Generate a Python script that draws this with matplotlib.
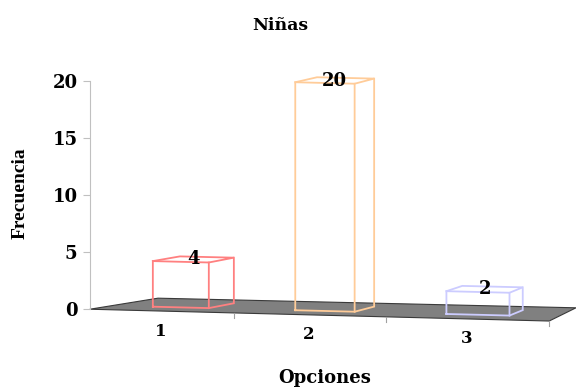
"""Recreate the 'Niñas' 3D-style column chart (Excel look) with matplotlib."""

import matplotlib

matplotlib.use("Agg")

import matplotlib.pyplot as plt
import numpy as np
from matplotlib.patches import Polygon

# Data
categories = ["1", "2", "3"]
values = [4, 20, 2]
edge_colors = ["#FF8080", "#FFCC99", "#CCCCFF"]
y_ticks = [0, 5, 10, 15, 20]

# Layout (pixels, figure is 576x390 at 100 dpi, y measured from top)
_W, _H, _DPI = 576, 390, 100
_FONT = "DejaVu Serif"
_FONT_NARROW = "Liberation Serif"
_AXIS_X = 90
_AXIS_Y0, _AXIS_Y1 = 309, 81  # pixel rows of value 0 and value 20
# floor (u along categories 0..3, v depth 0..1) -> pixel reference points
_FLOOR_REF = [
    ((0, 0), (90, 309)),
    ((1, 0), (233, 313)),
    ((2, 0), (387, 318)),
    ((3, 0), (549, 320)),
    ((0, 1), (158, 298)),
    ((3, 1), (576, 308)),
]
_BAR_U = (0.3, 0.7)  # bar extent inside its category cell
_BAR_V = (0.3, 0.72)  # bar extent in depth


def _fit_homography(pairs):
    rows = []
    for (u, v), (x, y) in pairs:
        rows.append([u, v, 1, 0, 0, 0, -x * u, -x * v, -x])
        rows.append([0, 0, 0, u, v, 1, -y * u, -y * v, -y])
    _, _, vt = np.linalg.svd(np.array(rows, dtype=float))
    return vt[-1].reshape(3, 3)


H = _fit_homography(_FLOOR_REF)


def main():
    fig = plt.figure(figsize=(_W / _DPI, _H / _DPI), dpi=_DPI)
    fig.patch.set_facecolor("white")

    # overlay in pixel coordinates for the pseudo-3D drawing
    ax = fig.add_axes([0, 0, 1, 1])
    ax.set_xlim(0, _W)
    ax.set_ylim(_H, 0)
    ax.axis("off")

    # value axis (real matplotlib scale)
    vax = fig.add_axes(
        [_AXIS_X / _W, (_H - _AXIS_Y0) / _H, 0.001, (_AXIS_Y0 - _AXIS_Y1) / _H]
    )
    vax.set_ylim(0, 20)
    vax.set_yticks(y_ticks)
    vax.set_xticks([])
    vax.patch.set_alpha(0)
    for side in ("top", "right", "bottom"):
        vax.spines[side].set_visible(False)
    vax.spines["left"].set_color("#C0C0C0")
    vax.tick_params(axis="y", colors="#C0C0C0", length=5, width=0.8, pad=4)
    for lab in vax.get_yticklabels():
        lab.set_color("black")
        lab.set_fontfamily(_FONT)
        lab.set_fontweight("bold")
        lab.set_fontsize(13)

    fig.canvas.draw()
    y0_px = vax.transData.transform((0, 0))[1]
    unit_px = vax.transData.transform((0, 1))[1] - y0_px

    def proj(u, v, z=0.0):
        x, y, w = H @ np.array([u, v, 1.0])
        return (x / w, y / w - z * unit_px)

    # floor
    floor = [proj(0, 0), proj(3, 0), proj(3, 1), proj(0, 1)]
    ax.add_patch(
        Polygon(floor, closed=True, facecolor="#808080", edgecolor="#3A3A3A",
                lw=0.8, zorder=1)
    )
    # category boundary ticks on the front edge
    for u in (1, 2, 3):
        x, y = proj(u, 0)
        ax.plot([x, x], [y, y + 5], color="#A0A0A0", lw=0.8, zorder=1)

    # wireframe bars
    for i, (val, col) in enumerate(zip(values, edge_colors)):
        u0, u1 = i + _BAR_U[0], i + _BAR_U[1]
        v0, v1 = _BAR_V
        fbl, fbr = proj(u0, v0), proj(u1, v0)
        ftl, ftr = proj(u0, v0, val), proj(u1, v0, val)
        bbr = proj(u1, v1)
        btl, btr = proj(u0, v1, val), proj(u1, v1, val)
        kw = dict(color=col, lw=1.3, zorder=3, solid_joinstyle="miter")
        front = [fbl, fbr, ftr, ftl, fbl]
        ax.plot(*zip(*front), **kw)
        ax.plot(*zip(ftl, btl, btr, ftr), **kw)
        ax.plot(*zip(fbr, bbr, btr), **kw)

        cx, cy = proj(i + 0.5, 0.5, val)
        ax.text(cx, cy, str(val), ha="center", va="center", fontsize=13,
                fontweight="bold", family=_FONT, zorder=4)

        lx, ly = proj(i + 0.5, 0)
        ax.text(lx, ly + 20, categories[i], ha="center", va="center",
                fontsize=12, fontweight="bold", family=_FONT)

    # titles
    ax.text(280, 25, "Niñas", ha="center", va="center", fontsize=12.5,
            fontweight="bold", family=_FONT)
    ax.text(325, 378, "Opciones", ha="center", va="center", fontsize=13,
            fontweight="bold", family=_FONT)
    ax.text(20, 193, "Frecuencia", ha="center", va="center", fontsize=14,
            fontweight="bold", family=_FONT_NARROW, rotation=90)

    fig.savefig("out.png", dpi=_DPI, facecolor="white")
    plt.close(fig)


if __name__ == "__main__":
    main()
